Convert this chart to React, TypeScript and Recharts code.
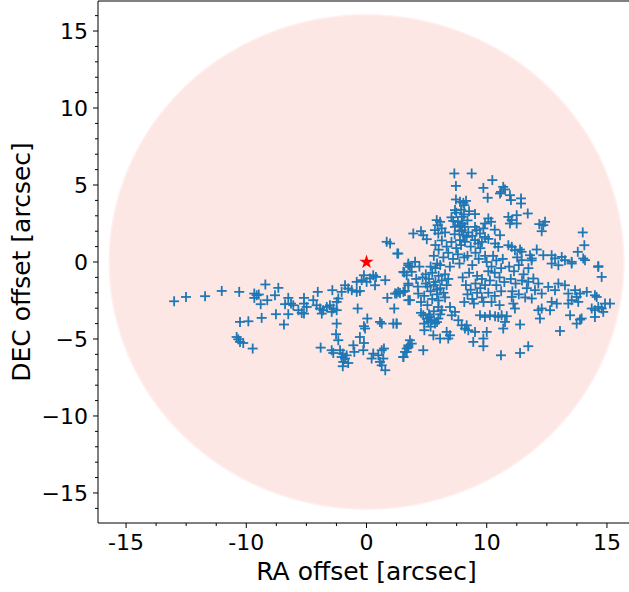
import { ScatterChart, Scatter, XAxis, YAxis, ReferenceLine } from "recharts";

// RA / DEC offsets in arcsec
const armPoints: [number, number][] = [
  [-12.0, -2.55], [-11.26, -2.27], [-10.07, -2.22], [-9.03, -1.88], [-7.94, -1.94],
  [-7.0, -2.05], [-6.85, -2.16], [-7.0, -2.33], [-6.72, -2.11],
  [-6.31, -1.46], [-5.5, -1.68], [-6.6, -2.74], [-6.19, -2.48], [-5.71, -2.16], [-4.88, -2.33],
  [-5.08, -2.74], [-4.71, -2.7], [-4.57, -2.81], [-3.9, -2.33], [-3.9, -2.7], [-3.73, -2.92], [-3.32, -2.48],
  [-3.11, -2.81], [-2.9, -3.02], [-2.7, -3.13], [-2.48, -2.92], [-2.28, -2.81], [-2.07, -3.02],
  [-1.86, -3.13], [-2.79, -3.35], [-2.17, -3.24],
  [-4.25, -3.13], [-4.04, -3.31], [-3.9, -3.35],
  [-3.04, -1.94], [-2.13, -1.83],
  [-1.55, -1.94], [-1.34, -1.51], [-1.14, -1.72], [-0.92, -1.83], [-0.61, -1.94], [-0.41, -1.88],
  [-1.76, -2.37], [-1.86, -2.59],
  [-0.61, -1.29], [-0.3, -1.18], [-0.16, -0.86], [0.01, -1.29], [0.22, -1.07], [0.42, -0.86], [0.59, -0.97], [0.53, -1.51],
  [1.17, -1.18],
  [-0.55, -3.02], [0.05, -3.67], [-0.16, -4.17], [-0.09, -4.32], [0.84, -3.89], [0.95, -4.0], [1.67, -4.0], [1.88, -4.0],
  [1.3, -2.33], [1.73, -3.02], [1.88, -2.05], [2.09, -2.01], [2.4, -1.88],
  [2.36, -0.68], [2.61, -0.21], [2.51, -0.86], [1.92, 0.55], [1.26, 1.31], [1.47, 1.2],
  [2.61, -1.51], [2.61, -2.48],
  [-7.89, -3.89], [-7.37, -3.85], [-6.54, -3.63], [-5.65, -3.39], [-4.88, -3.39], [-5.15, -4.06],
  [-8.1, -4.87], [-8.0, -5.02], [-7.89, -5.19], [-7.69, -5.26], [-7.1, -5.62],
  [-1.86, -4.0], [-1.9, -4.69], [-1.76, -5.08],
  [-2.86, -5.56],
  [-2.17, -5.73], [-2.07, -5.91], [-1.65, -5.73], [-1.48, -5.95], [-1.55, -6.17], [-1.34, -6.27],
  [-1.24, -6.06], [-1.45, -6.49], [-1.14, -6.56], [-1.48, -6.77],
  [-0.82, -5.41], [-0.76, -5.84],
  [-0.41, -4.87], [-0.16, -5.26], [-0.2, -5.73],
  [0.42, -5.95], [0.32, -6.27],
  [0.74, -6.06], [0.95, -5.73], [1.09, -5.62], [1.05, -6.27], [0.84, -6.49], [0.95, -6.71], [1.17, -7.03],
  [2.3, -6.17], [2.51, -5.84], [2.61, -5.52],
];

const northPoints: [number, number][] = [
  [5.48, 5.75], [6.56, 5.75], [5.58, 4.94], [7.29, 4.81], [7.85, 5.32], [8.53, 4.88], [8.64, 4.71],
  [8.39, 4.55], [8.33, 4.45], [8.95, 4.34], [9.01, 4.02], [9.64, 4.13], [9.64, 3.8], [7.56, 4.17],
  [5.58, 4.06], [5.83, 3.91], [6.04, 3.84], [6.21, 3.97], [6.1, 3.69], [5.52, 3.37], [6.08, 3.09],
  [5.94, 2.93], [6.77, 3.11], [7.6, 2.83], [7.77, 2.61], [7.39, 2.5],
  [8.85, 2.93], [9.37, 3.04], [9.37, 2.5], [8.95, 2.5], [9.06, 2.72], [10.06, 3.15],
  [10.78, 2.46], [11.14, 2.61], [11.03, 2.39], [10.93, 2.0],
  [13.49, 1.92], [13.59, 1.09], [13.18, 0.66], [13.52, 0.23],
  [2.92, 1.85], [3.4, 2.0], [3.54, 1.74], [3.76, 1.48],
  [1.98, 0.55],
  [4.38, 2.72], [4.59, 2.61], [4.44, 2.39], [4.27, 2.07], [4.48, 1.85], [4.69, 2.18], [4.9, 1.92],
  [5.41, 2.67], [5.52, 2.28], [5.83, 2.39], [5.94, 2.07], [6.04, 1.74], [6.14, 2.28], [6.25, 1.63],
  [6.35, 1.92], [5.83, 1.42], [6.14, 1.31],
  [6.77, 2.28], [6.87, 2.07], [7.08, 1.85], [7.29, 2.18], [7.39, 1.63], [6.77, 1.42], [6.97, 1.2],
  [8.02, 1.2], [8.22, 0.98], [8.33, 1.74],
  [8.85, 1.09], [9.06, 0.98], [9.26, 0.77], [9.58, 0.81], [9.68, 0.66],
  [10.62, 0.81], [10.2, 0.44], [10.31, 0.23], [9.68, 0.12],
  [11.03, 0.44], [11.55, 0.44], [11.76, 0.23], [12.18, 0.33], [12.38, 0.12], [12.8, 0.01],
  [14.46, -0.27],
  [5.3, 2.9], [5.7, 2.6], [6.0, 2.5], [6.3, 2.7], [5.6, 3.2], [5.9, 3.4], [6.4, 3.3],
];

const southPoints: [number, number][] = [
  [2.3, -0.64], [2.71, -0.32], [2.82, -0.64], [2.61, -0.1], [3.03, 0.01],
  [1.98, -1.94], [2.3, -1.94], [1.78, -2.05],
  [2.61, -1.4], [2.71, -2.48], [3.23, -2.05],
  [1.88, -4.0],
  [3.54, -3.46], [3.76, -3.67], [3.86, -3.89], [4.07, -3.78], [4.27, -4.0], [4.48, -3.67], [3.96, -3.57],
  [3.61, -4.43], [4.17, -4.76], [4.59, -4.97], [5.1, -4.97], [5.0, -4.54], [5.21, -4.76],
  [3.54, -5.73],
  [2.71, -5.08], [2.61, -5.41], [2.51, -5.62], [2.4, -5.84], [2.3, -6.17], [2.82, -5.3],
  [4.48, -2.92], [4.69, -3.13], [5.21, -2.92], [5.32, -3.46], [5.52, -3.24], [5.73, -3.78],
  [5.94, -4.11], [6.14, -4.32], [6.25, -4.11], [6.35, -4.43],
  [6.66, -5.19], [6.77, -4.54], [7.29, -4.97], [7.5, -4.54], [7.29, -5.47],
  [7.08, -3.46], [7.39, -3.57], [7.7, -3.46], [8.02, -3.52], [8.22, -3.57], [8.43, -3.46], [8.75, -3.52],
  [8.64, -3.89], [8.53, -4.32],
  [9.58, -4.06],
  [10.09, -5.47], [9.58, -5.91], [8.39, -6.06],
  [12.07, -4.48],
  [13.11, -4.0], [13.32, -3.74], [13.42, -3.67], [12.7, -3.46],
  [9.16, -2.7], [9.26, -3.02], [9.06, -2.27],
  [10.72, -3.13], [10.93, -3.02], [10.82, -3.67], [11.45, -3.13], [11.87, -2.7], [11.55, -2.59],
  [12.59, -2.7], [12.8, -2.48], [13.11, -2.27], [13.32, -2.05], [13.74, -1.94], [13.21, -2.59],
  [14.25, -2.16], [14.36, -2.27], [14.05, -3.02], [14.25, -3.13], [14.46, -2.92], [14.67, -3.02],
  [14.77, -3.24], [14.88, -2.7], [15.19, -2.7],
  [14.25, -3.57],
  [14.67, -0.97], [14.46, -0.32],
  [13.63, 0.12], [12.8, -0.1], [11.97, -0.21], [11.55, -0.1],
  [10.09, -1.29], [10.41, -1.07], [10.72, -1.4], [10.51, -1.83], [10.31, -2.37], [10.93, -2.05],
  [11.34, -1.62], [11.97, -1.4], [12.38, -1.51], [11.76, -1.83],
  [12.59, -2.05], [13.01, -1.83],
];

const corePoints: [number, number][] = [
  [3.7, -0.8], [3.9, -1.1], [4.1, -0.7], [4.3, -1.3], [4.5, -0.9], [4.7, -1.2], [4.9, -0.8], [3.8, -1.6],
  [4.0, -1.9], [4.2, -1.5], [4.4, -2.1], [4.6, -1.7], [4.8, -2.0], [5.0, -1.5], [3.6, -2.2], [4.1, -2.4],
  [4.5, -2.5], [4.9, -2.3], [4.3, -0.4], [4.6, -0.2], [4.0, -0.3], [3.7, -1.4], [5.1, -1.1], [4.4, -1.8],
  [4.2, 0.4], [4.5, 0.8], [4.8, 0.3], [5.1, 0.6], [5.4, 0.2], [5.7, 0.5], [4.3, 1.1], [4.7, 1.4],
  [5.0, 1.0], [5.3, 1.3], [5.6, 0.9], [5.9, 1.1], [4.4, -0.1], [5.2, -0.3], [5.8, -0.1], [6.1, 0.3],
  [6.2, -1.5], [6.5, -1.8], [6.8, -1.4], [7.1, -1.7], [7.4, -1.5], [6.3, -2.1], [6.6, -2.4], [6.9, -2.0],
  [7.2, -2.3], [6.1, -2.6], [6.7, -2.7], [7.3, -2.6], [6.0, -1.0], [6.4, -0.7], [6.9, -0.9], [7.2, -1.1],
  [7.5, 0.0], [7.8, -0.3], [8.1, 0.1], [8.4, -0.4], [7.6, -0.6], [8.0, -0.7], [8.5, 0.2], [7.9, 0.4],
  [8.3, -1.0], [7.7, -1.2], [8.1, -1.5], [8.6, -1.3], [7.6, -2.0], [8.0, -2.2], [8.4, -1.9], [7.8, -2.6], [8.3, -2.8],
  [8.9, -0.3], [9.2, -0.6], [9.5, -0.2], [9.8, -0.8], [10.1, -0.4], [9.0, -1.1], [9.3, -1.4], [9.7, -1.2],
  [10.0, -1.7], [9.1, -1.9], [9.5, -2.1], [9.9, -2.3], [10.3, 0.1], [9.4, 0.3],
  [6.5, 1.0], [6.8, 0.6], [7.1, 0.9], [7.4, 0.4], [6.3, 0.4], [7.0, 0.2], [6.6, -0.2], [5.5, 1.8],
  [5.8, 2.0], [6.6, 1.7], [7.6, 1.5], [8.0, 2.1], [7.2, 1.3],
  [3.3, -0.3], [3.5, -1.0], [3.2, -1.6], [3.4, -2.6], [3.8, -2.8], [3.1, -1.1],
  [3.4, -3.3], [3.9, -3.4], [4.2, -3.2], [4.6, -3.4], [3.6, -4.0], [4.0, -4.2], [4.4, -3.9],
];

const target = [{ x: 0, y: 0 }];
const fovRadius = 16.1;

const xDomain: [number, number] = [-16.75, 16.75];
const yDomain: [number, number] = [-16.95, 16.95];
const xTicks = [-15, -13.125, -11.25, -9.375, -7.5, -5.625, -3.75, -1.875, 0, 1.875, 3.75, 5.625, 7.5, 9.375, 11.25, 13.125, 15];
const xMajorTicks = [-15, -7.5, 0, 7.5, 15];
const xTickLabels = ["-15", "-10", "0", "10", "15"];
const yTicks = [-16, -15, -14, -13, -12, -11, -10, -9, -8, -7, -6, -5, -4, -3, -2, -1, 0, 1, 2, 3, 4, 5, 6, 7, 8, 9, 10, 11, 12, 13, 14, 15, 16];

const W = 640;
const H = 592;
const M = { top: 1, right: 5, bottom: 0, left: 0 };
const yAxisW = 98;
const xAxisH = 69;
const plotW = W - M.left - M.right - yAxisW;
const plotH = H - M.top - M.bottom - xAxisH;
const plotBottom = M.top + plotH;
const plotLeft = M.left + yAxisW;

const font = "DejaVu Sans";
const blue = "#1f77b4";

const toRows = (pts: [number, number][]) => pts.map(([x, y]) => ({ x, y }));
const offsets = [...toRows(armPoints), ...toRows(northPoints), ...toRows(southPoints), ...toRows(corePoints)];

const Plus = (p: any) => {
  const { cx, cy } = p;
  if (cx == null || cy == null) return <g />;
  return (
    <g stroke={blue} strokeWidth={1.8}>
      <line x1={cx - 5} y1={cy} x2={cx + 5} y2={cy} />
      <line x1={cx} y1={cy - 5} x2={cx} y2={cy + 5} />
    </g>
  );
};

const FovDisk = (p: any) => {
  const { cx, cy } = p;
  const rx = (fovRadius * plotW) / (xDomain[1] - xDomain[0]);
  const ry = (fovRadius * plotH) / (yDomain[1] - yDomain[0]);
  return (
    <g>
      <ellipse cx={cx} cy={cy} rx={rx} ry={ry} fill="#fff0ef" />
      <ellipse cx={cx} cy={cy} rx={rx - 1.5} ry={ry - 1.5} fill="#fde7e5" />
    </g>
  );
};

const XTick = (p: any) => {
  const { x, payload } = p;
  const i = xMajorTicks.indexOf(payload.value);
  const major = i >= 0;
  return (
    <g>
      <line x1={x} y1={plotBottom} x2={x} y2={plotBottom + (major ? 5 : 3)} stroke="#000" strokeWidth={1} />
      {major && (
        <text x={x} y={plotBottom + 27} textAnchor="middle" fontSize={22} fontFamily={font} fill="#000">
          {xTickLabels[i]}
        </text>
      )}
    </g>
  );
};

const YTick = (p: any) => {
  const { y, payload } = p;
  const v = payload.value as number;
  const major = v % 5 === 0;
  return (
    <g>
      <line x1={plotLeft} y1={y} x2={plotLeft - (major ? 5 : 3)} y2={y} stroke="#000" strokeWidth={1} />
      {major && (
        <text x={plotLeft - 10} y={y + 8} textAnchor="end" fontSize={22} fontFamily={font} fill="#000">
          {v < 0 ? "\u2212" + Math.abs(v) : String(v)}
        </text>
      )}
    </g>
  );
};

export default function App() {
  return (
    <div style={{ position: "absolute", left: 0, top: 0, width: 629, height: 592, overflow: "hidden", background: "#fff" }}>
      <ScatterChart width={W} height={H} margin={M}>
        <XAxis
          type="number"
          dataKey="x"
          domain={xDomain}
          ticks={xTicks}
          interval={0}
          allowDataOverflow
          height={xAxisH}
          tickLine={false}
          tick={<XTick />}
          axisLine={{ stroke: "#000", strokeWidth: 1 }}
          label={{ value: "RA offset [arcsec]", position: "insideBottom", offset: 12, fontSize: 25, fontFamily: font, fill: "#000" }}
        />
        <YAxis
          type="number"
          dataKey="y"
          domain={yDomain}
          ticks={yTicks}
          interval={0}
          allowDataOverflow
          width={yAxisW}
          tickLine={false}
          tick={<YTick />}
          axisLine={{ stroke: "#000", strokeWidth: 1 }}
          label={{ value: "DEC offset [arcsec]", angle: -90, position: "insideLeft", offset: 21, fontSize: 25, fontFamily: font, fill: "#000", textAnchor: "middle" }}
        />
        <Scatter data={target} shape={<FovDisk />} isAnimationActive={false} />
        <Scatter data={offsets} shape={<Plus />} isAnimationActive={false} />
        <Scatter data={target} shape="star" fill="red" isAnimationActive={false} />
        <ReferenceLine y={yDomain[1]} stroke="#000" strokeWidth={1} />
      </ScatterChart>
    </div>
  );
}
